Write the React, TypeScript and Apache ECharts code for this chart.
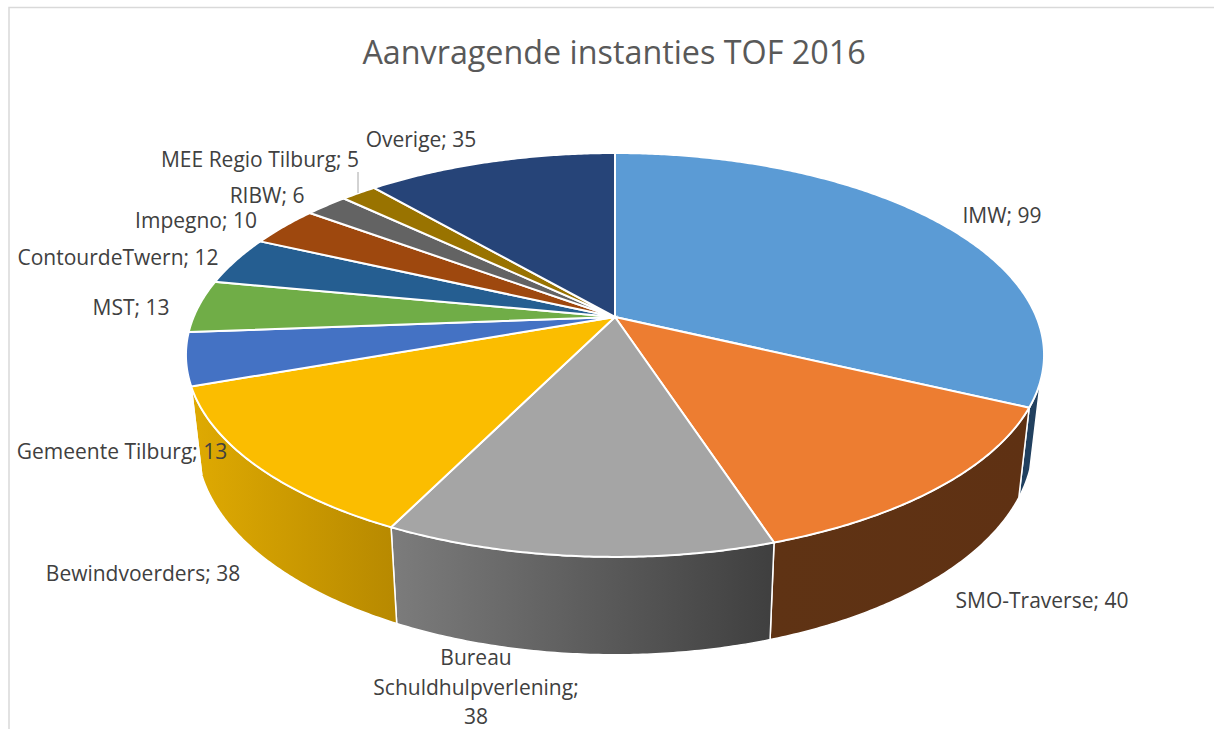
import React, { useEffect, useRef } from "react";
import * as echarts from "echarts";

const chartTitle = "Aanvragende instanties TOF 2016";
const names = ["IMW", "SMO-Traverse", "Bureau Schuldhulpverlening", "Bewindvoerders", "Gemeente Tilburg", "MST", "ContourdeTwern", "Impegno", "RIBW", "MEE Regio Tilburg", "Overige"];
const values = [99, 40, 38, 38, 13, 13, 12, 10, 6, 5, 35];
const topColors = ["#5B9BD5", "#ED7D31", "#A5A5A5", "#FBBD00", "#4472C4", "#70AD47", "#255E91", "#9E480E", "#636363", "#997300", "#264478"];
const wallLeft = ["#1F4060", "#5F3314", "#7C7C7C", "#DFAA02", "#3E6DBB", "#70AD47", "#255E91", "#9E480E", "#636363", "#997300", "#264478"];
const wallRight = ["#23405E", "#5F3113", "#3F3F3F", "#B78900", "#3E6DBB", "#70AD47", "#255E91", "#9E480E", "#636363", "#997300", "#264478"];

// label centre [x, y] per slice; index-aligned with names
const labelCentres = [
  [1002, 215], [1042, 600], [476, 686.5], [143, 573], [122, 451], [131, 307],
  [118, 257], [196, 220], [267, 195], [260, 159], [421, 139],
];

// perspective model of the pie disc
const apexX = 615, apexY = 317;
const K = 0.188, A = 421.4, B = 194.8;
const baseScaleX = 0.975, baseScaleY = 1.0536, baseDrop = 85;
const wallFrom = 108, wallTo = 252;
const lineStep = 29.5;

const total = values.reduce((a, b) => a + b, 0);
const startAngle = (i: number) => (values.slice(0, i).reduce((a, b) => a + b, 0) / total) * 360;

function rim(deg: number): [number, number] {
  const t = (deg * Math.PI) / 180;
  const w = 1 + K * Math.cos(t);
  return [apexX + (A * Math.sin(t)) / w, apexY - (B * Math.cos(t)) / w];
}
function base(deg: number): [number, number] {
  const [x, y] = rim(deg);
  return [apexX + (x - apexX) * baseScaleX, apexY + baseDrop + (y - apexY) * baseScaleY];
}
function arc(from: number, to: number, fn: (d: number) => [number, number]) {
  const pts: [number, number][] = [];
  const n = Math.max(2, Math.ceil((to - from) * 2));
  for (let k = 0; k <= n; k++) pts.push(fn(from + ((to - from) * k) / n));
  return pts;
}

function labelLines(i: number) {
  if (i === 2) return ["Bureau", "Schuldhulpverlening;", String(values[i])];
  return [names[i] + "; " + values[i]];
}

export default function App() {
  const ref = useRef<HTMLDivElement>(null);
  useEffect(() => {
    const chart = echarts.init(ref.current!, undefined, { renderer: "svg" });
    chart.setOption({
      animation: false,
      backgroundColor: "#fff",
      title: {
        text: chartTitle,
        left: 609,
        top: 30,
        textAlign: "center",
        textStyle: { fontFamily: "Open Sans", fontSize: 32.3, fontWeight: "normal", color: "#595959" },
      },
      graphic: [
        { type: "polyline", silent: true, shape: { points: [[9, 729], [9, 7.5], [1214, 7.5]] }, style: { stroke: "#D9D9D9", lineWidth: 1.5, fill: "none" } },
        { type: "line", silent: true, z: 20, shape: { x1: 358, y1: 172, x2: 358, y2: 193 }, style: { stroke: "#A6A6A6", lineWidth: 1 } },
      ],
      series: [
        {
          type: "custom",
          coordinateSystem: "none",
          silent: true,
          z: 2,
          data: values,
          renderItem: (p: any) => {
            const i = p.dataIndex;
            const a = Math.max(startAngle(i), wallFrom);
            const b = Math.min(startAngle(i + 1), wallTo);
            if (b <= a) return { type: "group", children: [] };
            const pts = [...arc(a, b, rim), ...arc(a, b, base).reverse()];
            return {
              type: "polygon",
              shape: { points: pts },
              style: {
                fill: new echarts.graphic.LinearGradient(0, 0, 1, 0, [
                  { offset: 0, color: wallLeft[i] },
                  { offset: 1, color: wallRight[i] },
                ]),
                stroke: "#fff",
                lineWidth: 1.5,
              },
            };
          },
        },
        {
          type: "custom",
          coordinateSystem: "none",
          silent: true,
          z: 3,
          data: values,
          renderItem: (p: any) => {
            const i = p.dataIndex;
            const pts = [[apexX, apexY], ...arc(startAngle(i), startAngle(i + 1), rim)];
            return {
              type: "polygon",
              shape: { points: pts },
              style: { fill: topColors[i], stroke: "#fff", lineWidth: 2 },
            };
          },
        },
        {
          type: "custom",
          coordinateSystem: "none",
          silent: true,
          z: 5,
          data: values,
          renderItem: (p: any) => {
            const i = p.dataIndex;
            const lines = labelLines(i);
            return {
              type: "group",
              children: lines.map((line, k) => ({
                type: "text",
                x: labelCentres[i][0],
                y: labelCentres[i][1] + (k - (lines.length - 1) / 2) * lineStep,
                style: {
                  text: line,
                  fontFamily: "Open Sans",
                  fontSize: 21,
                  lineHeight: 22,
                  fill: "#404040",
                  align: "center",
                  verticalAlign: "middle",
                },
              })),
            };
          },
        },
      ],
    });
    return () => chart.dispose();
  }, []);
  return <div ref={ref} style={{ position: "absolute", left: 0, top: 0, width: 1214, height: 729 }} />;
}
